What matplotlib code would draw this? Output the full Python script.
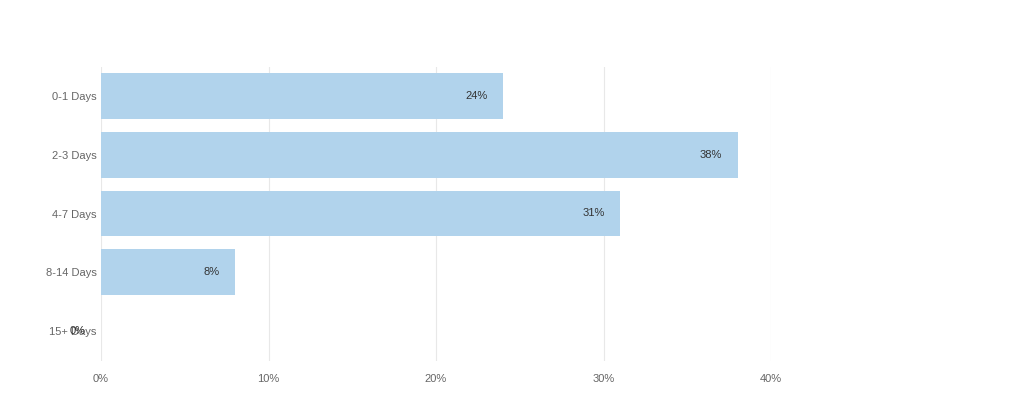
import matplotlib
matplotlib.use("Agg")
import matplotlib.pyplot as plt

categories = ["0-1 Days", "2-3 Days", "4-7 Days", "8-14 Days", "15+ Days"]
values = [24, 38, 31, 8, 0]
x_ticks = [0, 10, 20, 30, 40]
x_tick_labels = ["0%", "10%", "20%", "30%", "40%"]

plt.rcParams['font.family'] = ['Liberation Sans', 'DejaVu Sans']

fig = plt.figure(figsize=(10.24, 3.97), dpi=100)
ax = fig.add_axes([101/1024, 1 - 360.5/397, (771-101)/1024, (360.5-66.5)/397])

y = list(range(len(categories)))
ax.barh(y, values, height=0.78, color="#b1d3ec", zorder=2)
ax.set_ylim(len(categories) - 0.5, -0.5)
ax.set_xlim(0, 40)
ax.set_yticks(y)
ax.set_yticklabels(categories)
ax.set_xticks(x_ticks)
ax.set_xticklabels(x_tick_labels)
ax.tick_params(axis='both', length=0, labelsize=8, colors="#666666")
ax.tick_params(axis='y', pad=3)
ax.tick_params(axis='x', pad=10)
ax.xaxis.grid(True, color="#e8e8e8", linewidth=0.8, zorder=0)
for s in ax.spines.values():
    s.set_visible(False)

for yi, v in zip(y, values):
    ax.annotate(f"{v}%", xy=(v, yi), xytext=(-11, 0), textcoords="offset points",
                ha="right", va="center", fontsize=8, color="#333333", zorder=3)

fig.savefig("out.png", dpi=100, facecolor="white")
